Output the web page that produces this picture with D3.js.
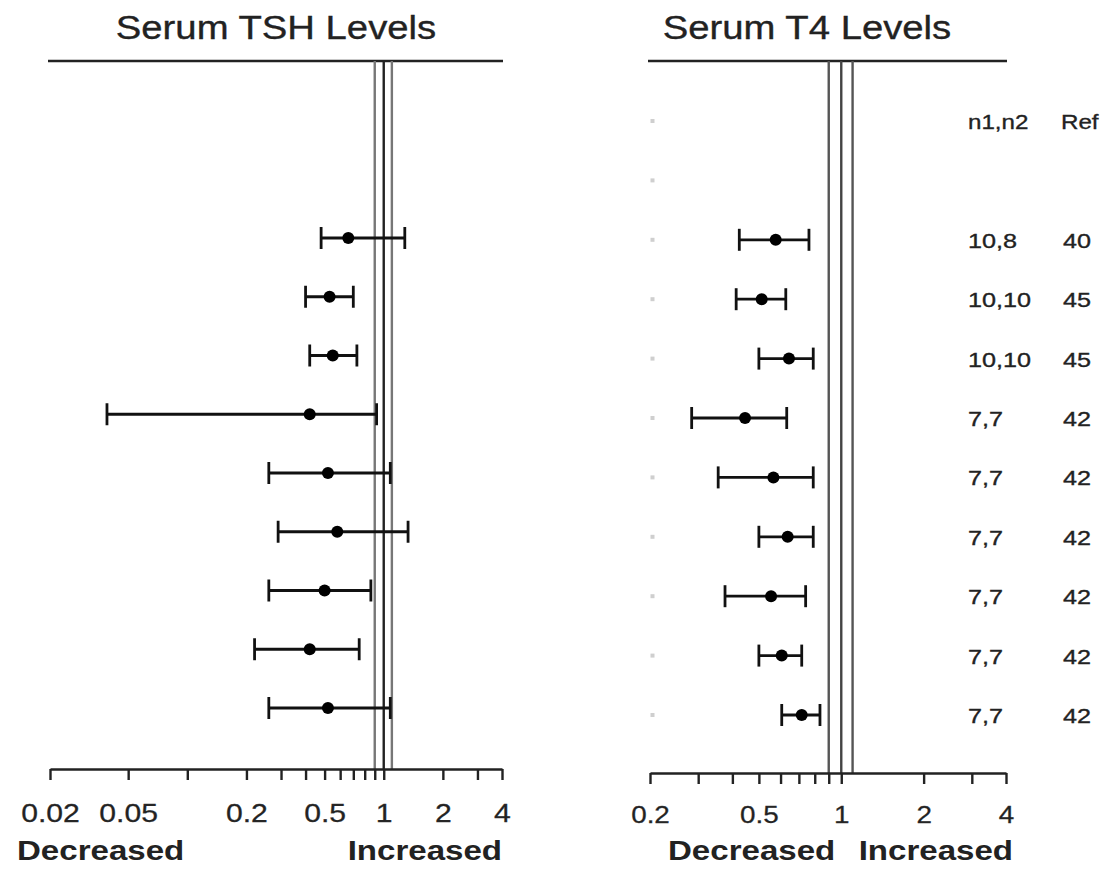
<!DOCTYPE html>
<html>
<head>
<meta charset="utf-8">
<script src="https://cdn.jsdelivr.net/npm/d3@7"></script>
<style>
  html, body { margin: 0; padding: 0; background: #fff; }
  svg { display: block; }
  text { font-family: "Liberation Sans", Arial, Helvetica, sans-serif; fill: #222; }
</style>
</head>
<body>
<svg id="chart" width="1113" height="870"></svg>
<script>
// ---------------- data ----------------
const rowCount = 11;               // rows 0,1 are empty/header rows
const dataRows = [2, 3, 4, 5, 6, 7, 8, 9, 10];

// Serum TSH (ratio, log scale)
const tshMean = [0.66, 0.53, 0.55, 0.42, 0.52, 0.58, 0.50, 0.42, 0.52];
const tshLow  = [0.48, 0.40, 0.42, 0.039, 0.26, 0.29, 0.26, 0.22, 0.26];
const tshHigh = [1.28, 0.70, 0.73, 0.92, 1.08, 1.33, 0.86, 0.75, 1.08];

// Serum T4 (ratio, log scale)
const t4Mean = [0.576, 0.512, 0.644, 0.445, 0.565, 0.637, 0.554, 0.606, 0.717];
const t4Low  = [0.424, 0.413, 0.50, 0.284, 0.355, 0.50, 0.376, 0.50, 0.606];
const t4High = [0.762, 0.627, 0.79, 0.632, 0.79, 0.79, 0.741, 0.717, 0.836];

const nLabels   = ["10,8", "10,10", "10,10", "7,7", "7,7", "7,7", "7,7", "7,7", "7,7"];
const refLabels = ["40", "45", "45", "42", "42", "42", "42", "42", "42"];
const colHeaders = ["n1,n2", "Ref"];

const tshTicks  = [0.02, 0.05, 0.1, 0.2, 0.3, 0.4, 0.5, 0.6, 0.7, 0.8, 0.9, 1, 2, 3, 4];
const tshLabels = ["0.02", "0.05", "0.2", "0.5", "1", "2", "4"];
const t4Ticks   = [0.2, 0.3, 0.4, 0.5, 0.6, 0.7, 0.8, 0.9, 1, 2, 3, 4];
const t4Labels  = ["0.2", "0.5", "1", "2", "4"];
const refLines  = [0.9, 1, 1.1];

// ---------------- drawing ----------------
const svg = d3.select("#chart");
const SX = 1.16; // horizontal stretch of the original lettering

function stretchedText(g, x, y, str, size, opts = {}) {
  const t = g.append("text")
    .attr("transform", `translate(${x},${y}) scale(${opts.sx || SX},1)`)
    .attr("font-size", size)
    .attr("text-anchor", opts.anchor || "start")
    .attr("font-weight", opts.weight || "normal")
    .attr("stroke", opts.weight === "bold" ? "none" : "#222")
    .attr("stroke-width", opts.weight === "bold" ? 0 : 0.35)
    .text(str);
  return t;
}

function panel(cfg) {
  const g = svg.append("g");
  const x = d3.scaleLog().domain(cfg.domain).range(cfg.range);
  const y = d3.scalePoint().domain(d3.range(rowCount)).range(cfg.rowRange);

  // title
  stretchedText(g, (cfg.range[0] + cfg.range[1]) / 2 + cfg.titleDx, 39, cfg.title, 33, {anchor: "middle"});

  // top line
  g.append("line")
    .attr("x1", cfg.range[0] - 2).attr("x2", cfg.range[1] + 1)
    .attr("y1", 61).attr("y2", 61)
    .attr("stroke", "#222").attr("stroke-width", 2.4);

  // reference lines at 0.9, 1, 1.1
  g.selectAll(".ref").data(refLines).enter().append("line")
    .attr("x1", d => x(d)).attr("x2", d => x(d))
    .attr("y1", 61).attr("y2", cfg.axisY)
    .attr("stroke", (d, i) => i === 1 ? cfg.midColor : cfg.sideColor)
    .attr("stroke-width", 2.4);

  // faint row markers
  if (cfg.rowMarks) {
    g.selectAll(".rm").data(d3.range(rowCount)).enter().append("rect")
      .attr("x", cfg.range[0] + 0.5).attr("y", d => y(d) - 2)
      .attr("width", 4).attr("height", 4)
      .attr("fill", "#cfcfcf");
  }

  // axis
  const axis = d3.axisBottom(x)
    .tickValues(cfg.ticks)
    .tickSize(11)
    .tickSizeOuter(0)
    .tickFormat(d => cfg.labels.includes(String(d)) ? String(d) : "");
  const ag = g.append("g").attr("transform", `translate(0,${cfg.axisY})`).call(axis);
  ag.select(".domain").attr("stroke", "#222").attr("stroke-width", 2.4);
  ag.selectAll(".tick line").attr("stroke", "#222").attr("stroke-width", 2.4);
  ag.selectAll(".tick text")
    .attr("y", cfg.labelDy).attr("dy", 0)
    .attr("font-size", cfg.tickFont)
    .attr("font-family", '"Liberation Sans", Arial, sans-serif')
    .attr("fill", "#333")
    .attr("stroke", "#333").attr("stroke-width", 0.3)
    .attr("transform", `scale(${SX},1)`);

  // Decreased / Increased
  stretchedText(g, cfg.decX, 860, "Decreased", cfg.dirFont, {weight: "bold", anchor: "start"});
  stretchedText(g, cfg.incX, 860, "Increased", cfg.dirFont, {weight: "bold", anchor: cfg.incAnchor});

  // error bars
  const rows = dataRows.map((r, i) => ({r, m: cfg.mean[i], lo: cfg.low[i], hi: cfg.high[i]}));
  const eb = g.selectAll(".eb").data(rows).enter().append("g");
  eb.append("line")
    .attr("x1", d => x(d.lo)).attr("x2", d => x(d.hi))
    .attr("y1", d => y(d.r)).attr("y2", d => y(d.r))
    .attr("stroke", "#111").attr("stroke-width", 2.8);
  eb.append("line")
    .attr("x1", d => x(d.lo)).attr("x2", d => x(d.lo))
    .attr("y1", d => y(d.r) - 11).attr("y2", d => y(d.r) + 11)
    .attr("stroke", "#111").attr("stroke-width", 2.8);
  eb.append("line")
    .attr("x1", d => x(d.hi)).attr("x2", d => x(d.hi))
    .attr("y1", d => y(d.r) - 11).attr("y2", d => y(d.r) + 11)
    .attr("stroke", "#111").attr("stroke-width", 2.8);
  eb.append("circle")
    .attr("cx", d => x(d.m)).attr("cy", d => y(d.r)).attr("r", 6)
    .attr("fill", "#000");

  return {g, x, y};
}

panel({
  title: "Serum TSH Levels", titleDx: 0,
  domain: [0.02, 4], range: [50, 502], rowRange: [120.5, 708],
  axisY: 769, ticks: tshTicks, labels: tshLabels, tickFont: 26, labelDy: 53,
  midColor: "#222", sideColor: "#777",
  decX: 17, incX: 502, incAnchor: "end", dirFont: 28.5,
  mean: tshMean, low: tshLow, high: tshHigh, rowMarks: false
});

const right = panel({
  title: "Serum T4 Levels", titleDx: -21,
  domain: [0.2, 4], range: [650, 1006], rowRange: [121, 715],
  axisY: 773, ticks: t4Ticks, labels: t4Labels, tickFont: 24, labelDy: 50,
  midColor: "#444", sideColor: "#555",
  decX: 668, incX: 1013, incAnchor: "end", dirFont: 28.5,
  mean: t4Mean, low: t4Low, high: t4High, rowMarks: true
});

// n1,n2 / Ref columns
const tg = svg.append("g");
stretchedText(tg, 968, right.y(0) + 8, colHeaders[0], 21, {sx: 1.15});
stretchedText(tg, 1061, right.y(0) + 8, colHeaders[1], 21, {sx: 1.15});
dataRows.forEach((r, i) => {
  stretchedText(tg, 968, right.y(r) + 8, nLabels[i], 21, {sx: 1.2});
  stretchedText(tg, 1063, right.y(r) + 8, refLabels[i], 21, {sx: 1.2});
});
</script>
</body>
</html>
